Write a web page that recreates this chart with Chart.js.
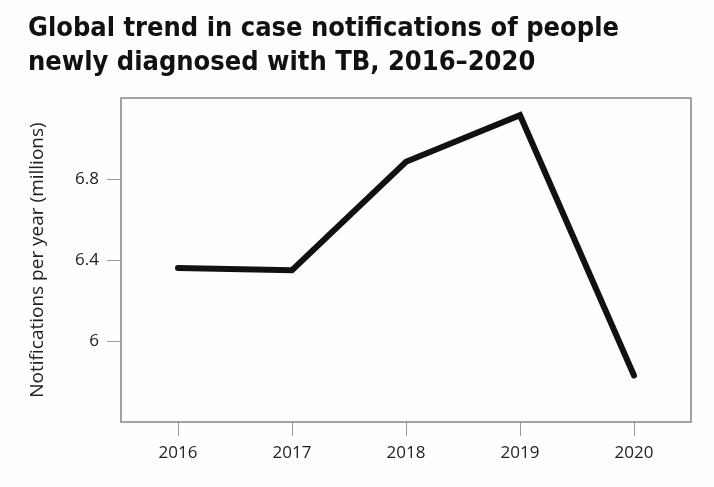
<!DOCTYPE html>
<html>
<head>
<meta charset="utf-8">
<script src="https://cdn.jsdelivr.net/npm/chart.js@4"></script>
<style>
  html, body { margin: 0; padding: 0; background: #fefefe; }
  #wrap { width: 714px; height: 487px; }
</style>
</head>
<body>
<div id="wrap"><canvas id="tbChart" width="714" height="487"></canvas></div>
<script>
// values
var years = ['2016', '2017', '2018', '2019', '2020'];
var notifications = [6.36, 6.35, 6.885, 7.115, 5.83];   // millions
var yTickValues = [6, 6.4, 6.8];

var titleLines = ['Global trend in case notifications of people', 'newly diagnosed with TB, 2016\u20132020'];
var yTitle = 'Notifications per year (millions)';

// draws the grey box round the plot area
var plotBox = {
  id: 'plotBox',
  afterDraw: function(chart) {
    var a = chart.chartArea, c = chart.ctx;
    c.save();
    c.strokeStyle = '#858585';
    c.lineWidth = 1.5;
    c.strokeRect(a.left, a.top, a.right - a.left, a.bottom - a.top);
    c.restore();
  }
};

var ctx = document.getElementById('tbChart').getContext('2d');
var chart = new Chart(ctx, {
  type: 'line',
  data: {
    labels: years,
    datasets: [{
      data: notifications,
      borderColor: '#111111',
      borderWidth: 6,
      borderCapStyle: 'round',
      borderJoinStyle: 'miter',
      pointRadius: 0,
      tension: 0,
      fill: false
    }]
  },
  options: {
    responsive: false,
    animation: false,
    layout: { padding: { left: 28, right: 23, top: 0, bottom: 0 } },
    plugins: {
      legend: { display: false },
      tooltip: { enabled: false },
      title: {
        display: true,
        text: titleLines,
        align: 'start',
        color: '#111111',
        font: { family: "'DejaVu Sans Condensed', 'Liberation Sans Narrow', sans-serif", size: 27, weight: 'bold', lineHeight: 1.26 },
        padding: { top: 12, bottom: 18 }
      }
    },
    scales: {
      x: {
        offset: true,
        grid: { drawOnChartArea: false, drawTicks: true, tickLength: 14, color: '#9a9a9a', offset: false },
        border: { display: false },
        ticks: { color: '#222222', padding: 7, font: { family: "'Open Sans', sans-serif", size: 17 } },
        afterFit: function(scale) { scale.height = 65; }
      },
      y: {
        min: 5.6,
        max: 7.2,
        afterBuildTicks: function(scale) {
          scale.ticks = yTickValues.map(function(v) { return { value: v }; });
        },
        grid: { drawOnChartArea: false, drawTicks: true, tickLength: 14, color: '#9a9a9a' },
        border: { display: false },
        ticks: {
          color: '#222222',
          padding: 8,
          font: { family: "'Open Sans', sans-serif", size: 17 },
          callback: function(v) { return String(v); }
        },
        title: {
          display: true,
          text: yTitle,
          color: '#222222',
          padding: 0,
          font: { family: "'Open Sans', sans-serif", size: 19, lineHeight: 1.0 }
        },
        afterFit: function(scale) { scale.width = 93; }
      }
    }
  },
  plugins: [plotBox]
});
</script>
</body>
</html>
